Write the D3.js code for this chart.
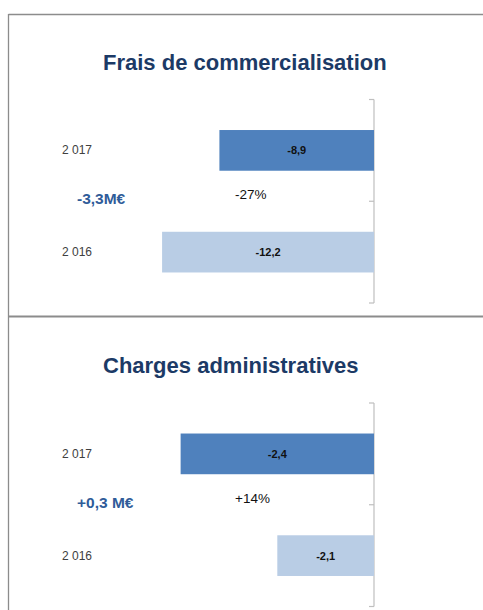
<!DOCTYPE html>
<html>
<head>
<meta charset="utf-8">
<script src="https://cdn.jsdelivr.net/npm/d3@7"></script>
<style>
  body { margin: 0; background: #fff; }
  svg { display: block; }
</style>
</head>
<body>
<div id="chart"></div>
<script>
// data
const categories = ["2 017", "2 016"];
const fraisValues = [-8.9, -12.2];
const chargesValues = [-2.4, -2.1];
const panelTitles = ["Frais de commercialisation", "Charges administratives"];
const deltaLabels = ["-3,3M€", "+0,3 M€"];
const pctLabels = ["-27%", "+14%"];
const fraisDomain = [-14, 0];
const chargesDomain = [-2.5, -1.8];

const width = 483, height = 610;

const svg = d3.select("#chart").append("svg")
    .attr("width", width)
    .attr("height", height);

// frames
svg.append("line")
    .attr("x1", 8.5).attr("x2", width)
    .attr("y1", 14.5).attr("y2", 14.5)
    .attr("stroke", "#8c8c8c").attr("stroke-width", 1.3);
svg.append("line")
    .attr("x1", 8.5).attr("x2", 8.5)
    .attr("y1", 14).attr("y2", height)
    .attr("stroke", "#8c8c8c").attr("stroke-width", 1.3);
svg.append("line")
    .attr("x1", 8).attr("x2", width)
    .attr("y1", 316.5).attr("y2", 316.5)
    .attr("stroke", "#8c8c8c").attr("stroke-width", 2);

const panels = [
    { title: panelTitles[0], values: fraisValues, domain: fraisDomain, pxPerUnit: 17.37, delta: deltaLabels[0], pct: pctLabels[0], top: 0 },
    { title: panelTitles[1], values: chargesValues, domain: chargesDomain, pxPerUnit: 322.3, delta: deltaLabels[1], pct: pctLabels[1], top: 303.5 }
];

panels.forEach(function (p) {
    const g = svg.append("g").attr("transform", "translate(0," + p.top + ")");

    g.append("text")
        .attr("x", 103)
        .attr("y", 69.5)
        .attr("fill", "#1c3a66")
        .style("font-family", "'Liberation Sans', Arial, sans-serif")
        .style("font-weight", "bold")
        .style("font-size", "22px")
        .text(p.title);

    const x = d3.scaleLinear()
        .domain(p.domain)
        .range([374 - (p.domain[1] - p.domain[0]) * p.pxPerUnit, 374]);

    const y = d3.scaleBand()
        .domain(categories)
        .range([99.5, 303]);

    const barH = y.bandwidth() * 0.4;
    const base = x(p.domain[1]);

    // axis line and ticks at category boundaries
    g.append("line")
        .attr("x1", base).attr("x2", base)
        .attr("y1", y.range()[0]).attr("y2", y.range()[1])
        .attr("stroke", "#bfbfbf").attr("stroke-width", 1.2);

    const tickYs = categories.map(c => y(c)).concat([y.range()[1]]);
    g.selectAll(".tick")
        .data(tickYs)
        .join("line")
        .attr("x1", base - 5).attr("x2", base)
        .attr("y1", d => d).attr("y2", d => d)
        .attr("stroke", "#bfbfbf").attr("stroke-width", 1.2);

    const rows = categories.map((c, i) => ({ cat: c, v: p.values[i], i: i }));

    g.selectAll(".bar")
        .data(rows)
        .join("rect")
        .attr("x", d => x(d.v))
        .attr("y", d => y(d.cat) + (y.bandwidth() - barH) / 2)
        .attr("width", d => base - x(d.v))
        .attr("height", barH)
        .attr("fill", d => d.i === 0 ? "#4f81bd" : "#b9cde5");

    g.selectAll(".val")
        .data(rows)
        .join("text")
        .attr("x", d => (x(d.v) + base) / 2)
        .attr("y", d => y(d.cat) + y.bandwidth() / 2 + 4)
        .attr("text-anchor", "middle")
        .attr("fill", "#111")
        .style("font-family", "'Liberation Sans', Arial, sans-serif")
        .style("font-weight", "bold")
        .style("font-size", "11px")
        .text(d => String(d.v).replace(".", ","));

    g.selectAll(".cat")
        .data(rows)
        .join("text")
        .attr("x", 62)
        .attr("y", d => y(d.cat) + y.bandwidth() / 2 + 4)
        .attr("fill", "#404040")
        .style("font-family", "'Liberation Sans', Arial, sans-serif")
        .style("font-size", "12px")
        .text(d => d.cat);

    const midY = y.range()[0] + y.bandwidth();

    g.append("text")
        .attr("x", 77)
        .attr("y", midY + 3)
        .attr("fill", "#2f5c99")
        .style("font-family", "'Liberation Sans', Arial, sans-serif")
        .style("font-weight", "bold")
        .style("font-size", "15.5px")
        .text(p.delta);

    g.append("text")
        .attr("x", 235)
        .attr("y", midY - 2)
        .attr("fill", "#111")
        .style("font-family", "'Liberation Sans', Arial, sans-serif")
        .style("font-size", "13.5px")
        .text(p.pct);
});
</script>
</body>
</html>
